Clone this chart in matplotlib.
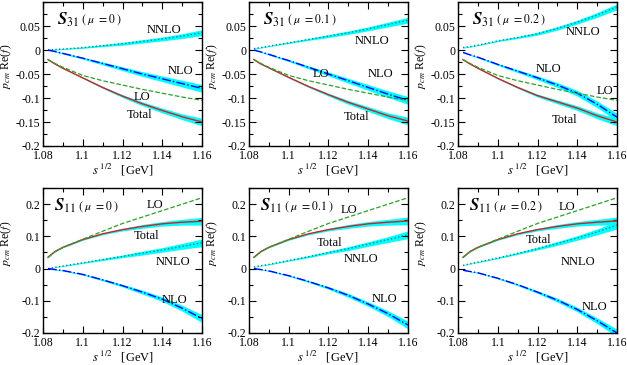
import numpy as np
import matplotlib
matplotlib.use("Agg")
import matplotlib.pyplot as plt
from matplotlib.ticker import MultipleLocator, FuncFormatter

plt.rcParams['font.family'] = ['Liberation Serif', 'DejaVu Serif']
plt.rcParams['mathtext.fontset'] = 'stix'
plt.rcParams['axes.unicode_minus'] = False

# sqrt(s) grid [GeV]
sqrt_s = [1.0825, 1.086, 1.09, 1.10, 1.11, 1.12, 1.13, 1.14, 1.15, 1.16]

# ---- S31 channel ----
s31_lo = [-0.020, -0.028, -0.036, -0.053, -0.064, -0.073, -0.082, -0.090, -0.098, -0.105]
s31_mu0_nlo = [0.0, -0.003, -0.007, -0.017, -0.028, -0.039, -0.050, -0.060, -0.070, -0.080]
s31_mu0_nnlo = [0.0, 0.001, 0.002, 0.005, 0.009, 0.013, 0.018, 0.023, 0.029, 0.036]
s31_mu0_tot = [-0.020, -0.029, -0.038, -0.058, -0.078, -0.096, -0.112, -0.126, -0.139, -0.150]
s31_mu1_nlo = [0.0, -0.004, -0.009, -0.022, -0.036, -0.050, -0.064, -0.078, -0.092, -0.105]
s31_mu1_nnlo = [0.003, 0.005, 0.008, 0.015, 0.022, 0.029, 0.036, 0.044, 0.053, 0.062]
s31_mu1_tot = [-0.020, -0.029, -0.037, -0.057, -0.076, -0.093, -0.109, -0.123, -0.137, -0.148]
s31_mu2_nlo = [-0.005, -0.010, -0.015, -0.030, -0.044, -0.058, -0.073, -0.090, -0.113, -0.140]
s31_mu2_nnlo = [0.005, 0.007, 0.010, 0.019, 0.026, 0.034, 0.045, 0.058, 0.073, 0.090]
s31_mu2_tot = [-0.020, -0.029, -0.038, -0.059, -0.078, -0.095, -0.108, -0.121, -0.137, -0.150]
s31_nlo_err = [0.001, 0.001, 0.0015, 0.002, 0.003, 0.004, 0.005, 0.006, 0.007, 0.008]
s31_nnlo_err = [0.001, 0.001, 0.001, 0.0015, 0.002, 0.003, 0.0035, 0.004, 0.005, 0.006]
s31_tot_err = [0.0005, 0.001, 0.001, 0.0015, 0.002, 0.003, 0.004, 0.005, 0.006, 0.008]

# ---- S11 channel ----
s11_lo = [0.035, 0.052, 0.066, 0.091, 0.116, 0.140, 0.160, 0.180, 0.200, 0.220]
s11_mu0_nlo = [0.0, -0.003, -0.006, -0.018, -0.035, -0.053, -0.073, -0.095, -0.123, -0.155]
s11_mu0_nnlo = [0.0, 0.004, 0.008, 0.018, 0.028, 0.038, 0.048, 0.058, 0.069, 0.080]
s11_mu0_tot = [0.035, 0.053, 0.066, 0.090, 0.108, 0.121, 0.131, 0.139, 0.144, 0.147]
s11_mu1_nlo = [0.0, -0.003, -0.007, -0.022, -0.040, -0.060, -0.083, -0.110, -0.140, -0.175]
s11_mu1_nnlo = [0.005, 0.009, 0.013, 0.025, 0.037, 0.050, 0.062, 0.076, 0.090, 0.105]
s11_mu1_tot = [0.035, 0.053, 0.066, 0.090, 0.108, 0.121, 0.131, 0.139, 0.144, 0.148]
s11_mu2_nlo = [-0.005, -0.009, -0.013, -0.030, -0.050, -0.073, -0.098, -0.127, -0.162, -0.200]
s11_mu2_nnlo = [0.010, 0.015, 0.020, 0.033, 0.047, 0.062, 0.078, 0.095, 0.114, 0.135]
s11_mu2_tot = [0.035, 0.053, 0.066, 0.090, 0.108, 0.121, 0.131, 0.139, 0.144, 0.148]
s11_nlo_err = [0.001, 0.001, 0.0015, 0.002, 0.003, 0.004, 0.006, 0.007, 0.009, 0.012]
s11_nnlo_err = [0.001, 0.001, 0.0015, 0.002, 0.003, 0.004, 0.006, 0.007, 0.009, 0.012]
s11_tot_err = [0.001, 0.001, 0.0015, 0.002, 0.003, 0.004, 0.006, 0.007, 0.009, 0.012]

mus = ['0', '0.1', '0.2']

# label positions (x, y) for NNLO, NLO, LO, Total
s31_labels = [
    [(1.141, 0.042), (1.149, -0.043), (1.1296, -0.097), (1.1287, -0.135)],
    [(1.142, 0.019), (1.146, -0.051), (1.1163, -0.051), (1.134, -0.139)],
    [(1.143, 0.037), (1.1254, -0.040), (1.1539, -0.085), (1.1338, -0.146)],
]
s11_labels = [
    [(1.1455, 0.022), (1.1463, -0.098), (1.1363, 0.196), (1.1321, 0.100)],
    [(1.1363, 0.029), (1.148, -0.093), (1.1305, 0.181), (1.1205, 0.079)],
    [(1.1405, 0.022), (1.1488, -0.119), (1.1346, 0.192), (1.1203, 0.0875)],
]

CYAN = '#00ffff'


def band(ax, y, err, line_kw):
    y = np.asarray(y)
    e = np.asarray(err)
    ax.fill_between(sqrt_s, y - e, y + e, color=CYAN, lw=0, zorder=1)
    ax.plot(sqrt_s, y, zorder=3, **line_kw)


def fmt(v, pos):
    if abs(v) < 1e-9:
        return '0'
    return ('%g' % round(v, 3))


fig = plt.figure(figsize=(6.27, 3.65), dpi=100)
lefts = [0.0686, 0.397, 0.7305]
w = 0.2536

for row in range(2):
    for col in range(3):
        if row == 0:
            ax = fig.add_axes([lefts[col], 0.600, w, 0.3945])
            lo = s31_lo
            nlo = [s31_mu0_nlo, s31_mu1_nlo, s31_mu2_nlo][col]
            nnlo = [s31_mu0_nnlo, s31_mu1_nnlo, s31_mu2_nnlo][col]
            tot = [s31_mu0_tot, s31_mu1_tot, s31_mu2_tot][col]
            errs = (s31_nlo_err, s31_nnlo_err, s31_tot_err)
            labs = s31_labels[col]
            chan = '31'
        else:
            ax = fig.add_axes([lefts[col], 0.0877, w, 0.397])
            lo = s11_lo
            nlo = [s11_mu0_nlo, s11_mu1_nlo, s11_mu2_nlo][col]
            nnlo = [s11_mu0_nnlo, s11_mu1_nnlo, s11_mu2_nnlo][col]
            tot = [s11_mu0_tot, s11_mu1_tot, s11_mu2_tot][col]
            errs = (s11_nlo_err, s11_nnlo_err, s11_tot_err)
            labs = s11_labels[col]
            chan = '11'

        band(ax, nnlo, errs[1], dict(color='#008b8b', ls=':', lw=1.0))
        band(ax, nlo, errs[0], dict(color='#0000ff', ls='-.', lw=1.0))
        band(ax, tot, errs[2], dict(color='#d62020', ls='-', lw=1.0))
        ax.plot(sqrt_s, lo, color='#2ca02c', ls='--', lw=0.9, zorder=3)

        for (x, y), t in zip(labs, ['NNLO', 'NLO', 'LO', 'Total']):
            ax.text(x, y, t, fontsize=9, ha='center', va='center', zorder=5)

        ax.text(0.07 if row else 0.09, 0.875,
                r'$\boldsymbol{S}_{\mathit{%s}}$' % chan, transform=ax.transAxes,
                fontsize=12, ha='left', va='center')
        ax.text(0.22 if row else 0.24, 0.875, r'$(\ \mu\ = %s\ )$' % mus[col],
                transform=ax.transAxes, fontsize=8.5, ha='left', va='center')

        ax.set_xlim(1.08, 1.16)
        ax.set_xticks([1.08, 1.10, 1.12, 1.14, 1.16])
        ax.xaxis.set_minor_locator(MultipleLocator(0.01))
        if row == 0:
            ax.set_ylim(-0.2, 0.1)
            ax.set_yticks([-0.2, -0.15, -0.1, -0.05, 0, 0.05])
            ax.yaxis.set_minor_locator(MultipleLocator(0.025))
        else:
            ax.set_ylim(-0.2, 0.25)
            ax.set_yticks([-0.2, -0.1, 0, 0.1, 0.2])
            ax.yaxis.set_minor_locator(MultipleLocator(0.05))
        ax.xaxis.set_major_formatter(FuncFormatter(fmt))
        ax.yaxis.set_major_formatter(FuncFormatter(fmt))
        ax.tick_params(which='both', direction='in', top=True, right=True,
                       labelsize=8.5)
        ax.tick_params(axis='x', pad=3)
        ax.tick_params(axis='y', pad=2)
        ax.tick_params(which='major', length=5, width=0.8)
        ax.tick_params(which='minor', length=3, width=0.8)
        for sp in ax.spines.values():
            sp.set_linewidth(1.0)
        ax.set_xlabel(r'$s^{\ 1/2}$   [GeV]', fontsize=9, labelpad=0)
        ax.set_ylabel(r'$p_{cm}$ Re($f$)', fontsize=8.5)
        ax.yaxis.set_label_coords(-0.18, 0.62 if row else 0.55)

fig.savefig('out.png', dpi=100)
